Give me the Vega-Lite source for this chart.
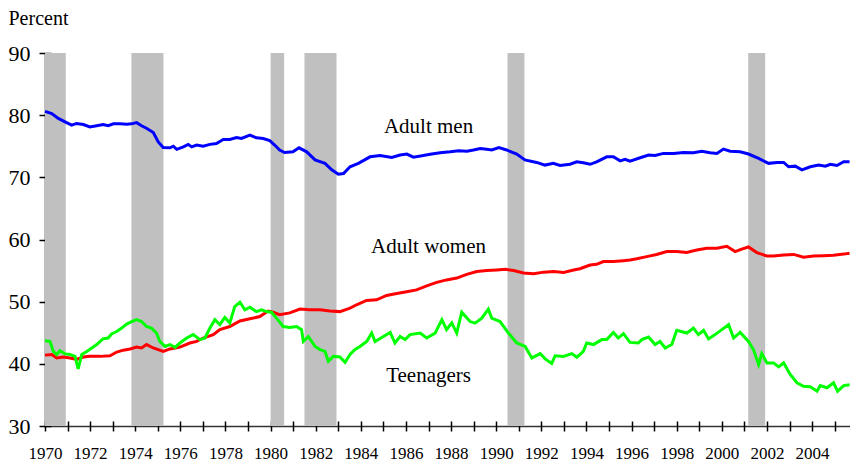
{
  "$schema": "https://vega.github.io/schema/vega-lite/v6.json",
  "width": 805,
  "height": 373,
  "autosize": "none",
  "padding": {"left": 45, "top": 53, "right": 0, "bottom": 38},
  "background": "white",
  "config": {"font": "'Liberation Serif', 'DejaVu Serif', serif", "view": {"stroke": null}, "axis": {"grid": false}, "text": {"font": "'Liberation Serif', 'DejaVu Serif', serif"}},
  "datasets": {
    "rec": [
      {"start": 1970.0, "end": 1970.92},
      {"start": 1973.83, "end": 1975.25},
      {"start": 1980.0, "end": 1980.6},
      {"start": 1981.5, "end": 1982.92},
      {"start": 1990.5, "end": 1991.25},
      {"start": 2001.17, "end": 2001.92}
    ],
    "labels": [
      {"year": 1987, "value": 77.1, "text": "Adult men"},
      {"year": 1987, "value": 57.85, "text": "Adult women"},
      {"year": 1987, "value": 37.15, "text": "Teenagers"}
    ],
    "series": [
      {"series":"Adult men","year":1970.0,"value":80.6},{"series":"Adult men","year":1970.3,"value":80.27},{"series":"Adult men","year":1970.59,"value":79.47},{"series":"Adult men","year":1970.89,"value":78.93},{"series":"Adult men","year":1971.18,"value":78.4},{"series":"Adult men","year":1971.4,"value":78.67},{"series":"Adult men","year":1971.7,"value":78.5},{"series":"Adult men","year":1971.99,"value":78.1},{"series":"Adult men","year":1972.29,"value":78.3},{"series":"Adult men","year":1972.58,"value":78.5},{"series":"Adult men","year":1972.8,"value":78.3},{"series":"Adult men","year":1973.03,"value":78.6},{"series":"Adult men","year":1973.32,"value":78.6},{"series":"Adult men","year":1973.62,"value":78.55},{"series":"Adult men","year":1973.84,"value":78.6},{"series":"Adult men","year":1974.06,"value":78.8},{"series":"Adult men","year":1974.28,"value":78.3},{"series":"Adult men","year":1974.5,"value":77.9},{"series":"Adult men","year":1974.8,"value":77.2},{"series":"Adult men","year":1975.02,"value":75.7},{"series":"Adult men","year":1975.24,"value":74.8},{"series":"Adult men","year":1975.54,"value":74.75},{"series":"Adult men","year":1975.69,"value":75.0},{"series":"Adult men","year":1975.84,"value":74.5},{"series":"Adult men","year":1976.13,"value":74.9},{"series":"Adult men","year":1976.35,"value":75.3},{"series":"Adult men","year":1976.5,"value":74.9},{"series":"Adult men","year":1976.72,"value":75.2},{"series":"Adult men","year":1977.01,"value":75.0},{"series":"Adult men","year":1977.31,"value":75.3},{"series":"Adult men","year":1977.6,"value":75.45},{"series":"Adult men","year":1977.9,"value":76.1},{"series":"Adult men","year":1978.19,"value":76.1},{"series":"Adult men","year":1978.49,"value":76.4},{"series":"Adult men","year":1978.71,"value":76.25},{"series":"Adult men","year":1979.08,"value":76.8},{"series":"Adult men","year":1979.37,"value":76.35},{"series":"Adult men","year":1979.67,"value":76.25},{"series":"Adult men","year":1979.96,"value":75.9},{"series":"Adult men","year":1980.18,"value":75.2},{"series":"Adult men","year":1980.4,"value":74.4},{"series":"Adult men","year":1980.62,"value":74.0},{"series":"Adult men","year":1980.99,"value":74.1},{"series":"Adult men","year":1981.26,"value":74.75},{"series":"Adult men","year":1981.6,"value":74.1},{"series":"Adult men","year":1981.97,"value":72.8},{"series":"Adult men","year":1982.41,"value":72.25},{"series":"Adult men","year":1982.71,"value":71.2},{"series":"Adult men","year":1983.0,"value":70.5},{"series":"Adult men","year":1983.23,"value":70.6},{"series":"Adult men","year":1983.52,"value":71.7},{"series":"Adult men","year":1983.89,"value":72.25},{"series":"Adult men","year":1984.41,"value":73.3},{"series":"Adult men","year":1984.85,"value":73.5},{"series":"Adult men","year":1985.37,"value":73.2},{"series":"Adult men","year":1985.74,"value":73.6},{"series":"Adult men","year":1986.04,"value":73.75},{"series":"Adult men","year":1986.33,"value":73.25},{"series":"Adult men","year":1986.77,"value":73.5},{"series":"Adult men","year":1987.07,"value":73.7},{"series":"Adult men","year":1987.51,"value":73.95},{"series":"Adult men","year":1987.96,"value":74.1},{"series":"Adult men","year":1988.33,"value":74.27},{"series":"Adult men","year":1988.7,"value":74.2},{"series":"Adult men","year":1988.99,"value":74.4},{"series":"Adult men","year":1989.29,"value":74.65},{"series":"Adult men","year":1989.58,"value":74.5},{"series":"Adult men","year":1989.8,"value":74.4},{"series":"Adult men","year":1990.12,"value":74.8},{"series":"Adult men","year":1990.46,"value":74.4},{"series":"Adult men","year":1990.91,"value":73.75},{"series":"Adult men","year":1991.27,"value":72.8},{"series":"Adult men","year":1991.79,"value":72.4},{"series":"Adult men","year":1992.16,"value":71.97},{"series":"Adult men","year":1992.53,"value":72.25},{"series":"Adult men","year":1992.83,"value":71.9},{"series":"Adult men","year":1993.27,"value":72.1},{"series":"Adult men","year":1993.57,"value":72.5},{"series":"Adult men","year":1993.86,"value":72.35},{"series":"Adult men","year":1994.16,"value":72.1},{"series":"Adult men","year":1994.45,"value":72.5},{"series":"Adult men","year":1994.9,"value":73.3},{"series":"Adult men","year":1995.19,"value":73.3},{"series":"Adult men","year":1995.49,"value":72.65},{"series":"Adult men","year":1995.71,"value":72.9},{"series":"Adult men","year":1995.93,"value":72.6},{"series":"Adult men","year":1996.38,"value":73.15},{"series":"Adult men","year":1996.75,"value":73.6},{"series":"Adult men","year":1997.04,"value":73.5},{"series":"Adult men","year":1997.41,"value":73.85},{"series":"Adult men","year":1997.86,"value":73.85},{"series":"Adult men","year":1998.3,"value":74.0},{"series":"Adult men","year":1998.74,"value":73.95},{"series":"Adult men","year":1999.11,"value":74.2},{"series":"Adult men","year":1999.48,"value":73.95},{"series":"Adult men","year":1999.78,"value":73.85},{"series":"Adult men","year":2000.07,"value":74.55},{"series":"Adult men","year":2000.37,"value":74.2},{"series":"Adult men","year":2000.81,"value":74.1},{"series":"Adult men","year":2001.18,"value":73.75},{"series":"Adult men","year":2001.63,"value":73.05},{"series":"Adult men","year":2002.07,"value":72.25},{"series":"Adult men","year":2002.44,"value":72.4},{"series":"Adult men","year":2002.74,"value":72.4},{"series":"Adult men","year":2002.96,"value":71.7},{"series":"Adult men","year":2003.25,"value":71.8},{"series":"Adult men","year":2003.55,"value":71.2},{"series":"Adult men","year":2003.92,"value":71.7},{"series":"Adult men","year":2004.29,"value":71.97},{"series":"Adult men","year":2004.59,"value":71.8},{"series":"Adult men","year":2004.81,"value":72.1},{"series":"Adult men","year":2005.1,"value":71.9},{"series":"Adult men","year":2005.4,"value":72.5},{"series":"Adult men","year":2005.66,"value":72.5},

      {"series":"Adult women","year":1970.0,"value":41.4},{"series":"Adult women","year":1970.3,"value":41.5},{"series":"Adult women","year":1970.52,"value":40.95},{"series":"Adult women","year":1970.81,"value":41.1},{"series":"Adult women","year":1971.11,"value":40.95},{"series":"Adult women","year":1971.4,"value":40.7},{"series":"Adult women","year":1971.7,"value":41.1},{"series":"Adult women","year":1971.99,"value":41.2},{"series":"Adult women","year":1972.44,"value":41.2},{"series":"Adult women","year":1972.88,"value":41.3},{"series":"Adult women","year":1973.18,"value":41.9},{"series":"Adult women","year":1973.47,"value":42.2},{"series":"Adult women","year":1973.77,"value":42.4},{"series":"Adult women","year":1974.06,"value":42.7},{"series":"Adult women","year":1974.28,"value":42.55},{"series":"Adult women","year":1974.5,"value":43.1},{"series":"Adult women","year":1974.8,"value":42.55},{"series":"Adult women","year":1975.24,"value":42.0},{"series":"Adult women","year":1975.54,"value":42.4},{"series":"Adult women","year":1975.98,"value":42.7},{"series":"Adult women","year":1976.42,"value":43.35},{"series":"Adult women","year":1976.72,"value":43.6},{"series":"Adult women","year":1977.01,"value":44.15},{"series":"Adult women","year":1977.46,"value":44.7},{"series":"Adult women","year":1977.75,"value":45.5},{"series":"Adult women","year":1978.19,"value":46.0},{"series":"Adult women","year":1978.64,"value":46.9},{"series":"Adult women","year":1979.08,"value":47.25},{"series":"Adult women","year":1979.52,"value":47.6},{"series":"Adult women","year":1979.89,"value":48.5},{"series":"Adult women","year":1980.11,"value":48.3},{"series":"Adult women","year":1980.4,"value":47.9},{"series":"Adult women","year":1980.85,"value":48.2},{"series":"Adult women","year":1981.3,"value":48.8},{"series":"Adult women","year":1981.74,"value":48.7},{"series":"Adult women","year":1982.19,"value":48.7},{"series":"Adult women","year":1982.63,"value":48.5},{"series":"Adult women","year":1983.07,"value":48.4},{"series":"Adult women","year":1983.52,"value":48.95},{"series":"Adult women","year":1983.81,"value":49.5},{"series":"Adult women","year":1984.25,"value":50.2},{"series":"Adult women","year":1984.7,"value":50.3},{"series":"Adult women","year":1985.14,"value":51.0},{"series":"Adult women","year":1985.59,"value":51.3},{"series":"Adult women","year":1986.03,"value":51.6},{"series":"Adult women","year":1986.47,"value":51.9},{"series":"Adult women","year":1986.92,"value":52.55},{"series":"Adult women","year":1987.36,"value":53.1},{"series":"Adult women","year":1987.8,"value":53.5},{"series":"Adult women","year":1988.25,"value":53.8},{"series":"Adult women","year":1988.69,"value":54.4},{"series":"Adult women","year":1989.14,"value":54.85},{"series":"Adult women","year":1989.58,"value":55.0},{"series":"Adult women","year":1990.03,"value":55.1},{"series":"Adult women","year":1990.4,"value":55.2},{"series":"Adult women","year":1990.77,"value":55.0},{"series":"Adult women","year":1991.21,"value":54.6},{"series":"Adult women","year":1991.66,"value":54.5},{"series":"Adult women","year":1992.1,"value":54.75},{"series":"Adult women","year":1992.55,"value":54.85},{"series":"Adult women","year":1992.99,"value":54.7},{"series":"Adult women","year":1993.43,"value":55.1},{"series":"Adult women","year":1993.71,"value":55.3},{"series":"Adult women","year":1994.16,"value":55.9},{"series":"Adult women","year":1994.45,"value":56.0},{"series":"Adult women","year":1994.75,"value":56.45},{"series":"Adult women","year":1995.19,"value":56.45},{"series":"Adult women","year":1995.64,"value":56.6},{"series":"Adult women","year":1995.93,"value":56.7},{"series":"Adult women","year":1996.23,"value":56.9},{"series":"Adult women","year":1996.67,"value":57.25},{"series":"Adult women","year":1997.11,"value":57.6},{"series":"Adult women","year":1997.56,"value":58.05},{"series":"Adult women","year":1998.0,"value":58.05},{"series":"Adult women","year":1998.44,"value":57.9},{"series":"Adult women","year":1998.89,"value":58.3},{"series":"Adult women","year":1999.33,"value":58.6},{"series":"Adult women","year":1999.78,"value":58.6},{"series":"Adult women","year":2000.22,"value":58.9},{"series":"Adult women","year":2000.59,"value":58.05},{"series":"Adult women","year":2000.88,"value":58.45},{"series":"Adult women","year":2001.18,"value":58.8},{"series":"Adult women","year":2001.55,"value":57.9},{"series":"Adult women","year":2001.99,"value":57.35},{"series":"Adult women","year":2002.29,"value":57.35},{"series":"Adult women","year":2002.74,"value":57.5},{"series":"Adult women","year":2003.18,"value":57.6},{"series":"Adult women","year":2003.62,"value":57.15},{"series":"Adult women","year":2004.07,"value":57.35},{"series":"Adult women","year":2004.51,"value":57.4},{"series":"Adult women","year":2004.95,"value":57.45},{"series":"Adult women","year":2005.4,"value":57.65},{"series":"Adult women","year":2005.66,"value":57.8},

      {"series":"Teenagers","year":1970.0,"value":43.7},{"series":"Teenagers","year":1970.22,"value":43.6},{"series":"Teenagers","year":1970.37,"value":42.0},{"series":"Teenagers","year":1970.52,"value":41.5},{"series":"Teenagers","year":1970.66,"value":42.1},{"series":"Teenagers","year":1970.89,"value":41.6},{"series":"Teenagers","year":1971.11,"value":41.5},{"series":"Teenagers","year":1971.33,"value":41.2},{"series":"Teenagers","year":1971.47,"value":39.2},{"series":"Teenagers","year":1971.63,"value":41.5},{"series":"Teenagers","year":1971.85,"value":42.0},{"series":"Teenagers","year":1972.07,"value":42.55},{"series":"Teenagers","year":1972.29,"value":43.1},{"series":"Teenagers","year":1972.58,"value":44.05},{"series":"Teenagers","year":1972.8,"value":44.15},{"series":"Teenagers","year":1972.95,"value":44.8},{"series":"Teenagers","year":1973.18,"value":45.2},{"series":"Teenagers","year":1973.4,"value":45.75},{"series":"Teenagers","year":1973.62,"value":46.4},{"series":"Teenagers","year":1973.84,"value":46.8},{"series":"Teenagers","year":1974.06,"value":47.1},{"series":"Teenagers","year":1974.28,"value":46.8},{"series":"Teenagers","year":1974.5,"value":46.0},{"series":"Teenagers","year":1974.72,"value":45.75},{"series":"Teenagers","year":1974.94,"value":44.95},{"series":"Teenagers","year":1975.09,"value":43.6},{"series":"Teenagers","year":1975.32,"value":42.8},{"series":"Teenagers","year":1975.54,"value":43.1},{"series":"Teenagers","year":1975.76,"value":42.65},{"series":"Teenagers","year":1975.98,"value":43.35},{"series":"Teenagers","year":1976.28,"value":44.15},{"series":"Teenagers","year":1976.57,"value":44.7},{"series":"Teenagers","year":1976.87,"value":43.9},{"series":"Teenagers","year":1977.09,"value":44.15},{"series":"Teenagers","year":1977.31,"value":45.75},{"series":"Teenagers","year":1977.53,"value":47.1},{"series":"Teenagers","year":1977.75,"value":46.3},{"series":"Teenagers","year":1977.97,"value":47.45},{"series":"Teenagers","year":1978.19,"value":46.55},{"series":"Teenagers","year":1978.41,"value":49.2},{"series":"Teenagers","year":1978.64,"value":49.9},{"series":"Teenagers","year":1978.86,"value":48.7},{"series":"Teenagers","year":1979.08,"value":49.1},{"series":"Teenagers","year":1979.37,"value":48.4},{"series":"Teenagers","year":1979.6,"value":48.7},{"series":"Teenagers","year":1979.82,"value":48.4},{"series":"Teenagers","year":1980.04,"value":48.3},{"series":"Teenagers","year":1980.26,"value":47.35},{"series":"Teenagers","year":1980.56,"value":46.0},{"series":"Teenagers","year":1980.85,"value":45.85},{"series":"Teenagers","year":1981.15,"value":46.0},{"series":"Teenagers","year":1981.37,"value":45.5},{"series":"Teenagers","year":1981.45,"value":43.6},{"series":"Teenagers","year":1981.67,"value":44.4},{"series":"Teenagers","year":1981.97,"value":42.8},{"series":"Teenagers","year":1982.19,"value":42.3},{"series":"Teenagers","year":1982.41,"value":42.0},{"series":"Teenagers","year":1982.56,"value":40.4},{"series":"Teenagers","year":1982.78,"value":41.2},{"series":"Teenagers","year":1983.07,"value":41.1},{"series":"Teenagers","year":1983.3,"value":40.25},{"series":"Teenagers","year":1983.52,"value":41.5},{"series":"Teenagers","year":1983.74,"value":42.3},{"series":"Teenagers","year":1983.96,"value":42.8},{"series":"Teenagers","year":1984.26,"value":43.6},{"series":"Teenagers","year":1984.48,"value":44.95},{"series":"Teenagers","year":1984.63,"value":43.6},{"series":"Teenagers","year":1985.0,"value":44.4},{"series":"Teenagers","year":1985.3,"value":45.05},{"series":"Teenagers","year":1985.51,"value":43.35},{"series":"Teenagers","year":1985.74,"value":44.4},{"series":"Teenagers","year":1985.96,"value":43.9},{"series":"Teenagers","year":1986.18,"value":44.7},{"series":"Teenagers","year":1986.63,"value":44.95},{"series":"Teenagers","year":1986.92,"value":44.15},{"series":"Teenagers","year":1987.29,"value":44.95},{"series":"Teenagers","year":1987.59,"value":47.1},{"series":"Teenagers","year":1987.8,"value":45.5},{"series":"Teenagers","year":1988.03,"value":46.6},{"series":"Teenagers","year":1988.25,"value":44.95},{"series":"Teenagers","year":1988.47,"value":48.3},{"series":"Teenagers","year":1988.84,"value":46.8},{"series":"Teenagers","year":1989.06,"value":46.55},{"series":"Teenagers","year":1989.36,"value":47.35},{"series":"Teenagers","year":1989.65,"value":48.8},{"series":"Teenagers","year":1989.8,"value":47.35},{"series":"Teenagers","year":1990.17,"value":46.8},{"series":"Teenagers","year":1990.54,"value":44.95},{"series":"Teenagers","year":1990.91,"value":43.35},{"series":"Teenagers","year":1991.28,"value":42.8},{"series":"Teenagers","year":1991.58,"value":40.95},{"series":"Teenagers","year":1991.95,"value":41.65},{"series":"Teenagers","year":1992.17,"value":40.8},{"series":"Teenagers","year":1992.46,"value":40.05},{"series":"Teenagers","year":1992.61,"value":41.3},{"series":"Teenagers","year":1992.98,"value":41.2},{"series":"Teenagers","year":1993.35,"value":41.65},{"series":"Teenagers","year":1993.57,"value":41.05},{"series":"Teenagers","year":1993.86,"value":42.0},{"series":"Teenagers","year":1994.01,"value":43.35},{"series":"Teenagers","year":1994.31,"value":43.1},{"series":"Teenagers","year":1994.68,"value":43.9},{"series":"Teenagers","year":1994.9,"value":43.9},{"series":"Teenagers","year":1995.19,"value":45.05},{"series":"Teenagers","year":1995.41,"value":44.15},{"series":"Teenagers","year":1995.64,"value":44.85},{"series":"Teenagers","year":1995.93,"value":43.45},{"series":"Teenagers","year":1996.3,"value":43.35},{"series":"Teenagers","year":1996.45,"value":43.9},{"series":"Teenagers","year":1996.75,"value":44.3},{"series":"Teenagers","year":1997.04,"value":43.1},{"series":"Teenagers","year":1997.26,"value":43.6},{"series":"Teenagers","year":1997.49,"value":42.55},{"series":"Teenagers","year":1997.78,"value":43.1},{"series":"Teenagers","year":1998.0,"value":45.4},{"series":"Teenagers","year":1998.45,"value":44.95},{"series":"Teenagers","year":1998.74,"value":45.75},{"series":"Teenagers","year":1998.96,"value":44.7},{"series":"Teenagers","year":1999.19,"value":45.4},{"series":"Teenagers","year":1999.41,"value":44.0},{"series":"Teenagers","year":1999.7,"value":44.7},{"series":"Teenagers","year":2000.0,"value":45.5},{"series":"Teenagers","year":2000.3,"value":46.3},{"series":"Teenagers","year":2000.52,"value":44.15},{"series":"Teenagers","year":2000.81,"value":45.05},{"series":"Teenagers","year":2001.18,"value":43.6},{"series":"Teenagers","year":2001.4,"value":42.3},{"series":"Teenagers","year":2001.63,"value":39.9},{"series":"Teenagers","year":2001.77,"value":41.65},{"series":"Teenagers","year":2002.0,"value":40.15},{"series":"Teenagers","year":2002.29,"value":40.15},{"series":"Teenagers","year":2002.52,"value":39.5},{"series":"Teenagers","year":2002.74,"value":40.15},{"series":"Teenagers","year":2003.03,"value":38.3},{"series":"Teenagers","year":2003.33,"value":36.95},{"series":"Teenagers","year":2003.62,"value":36.4},{"series":"Teenagers","year":2003.92,"value":36.3},{"series":"Teenagers","year":2004.22,"value":35.6},{"series":"Teenagers","year":2004.36,"value":36.5},{"series":"Teenagers","year":2004.66,"value":36.15},{"series":"Teenagers","year":2004.95,"value":36.95},{"series":"Teenagers","year":2005.13,"value":35.6},{"series":"Teenagers","year":2005.4,"value":36.5},{"series":"Teenagers","year":2005.66,"value":36.65}
    ]
  },
  "layer": [
    {
      "data": {"name": "rec"},
      "mark": {"type": "rect", "fill": "#c0c0c0"},
      "encoding": {
        "x": {"field": "start", "type": "quantitative",
          "scale": {"domain": [1970, 2005.68], "nice": false, "zero": false},
          "axis": {"values": [1970,1972,1974,1976,1978,1980,1982,1984,1986,1988,1990,1992,1994,1996,1998,2000,2002,2004],
            "format": "d", "tickSize": 0, "labelPadding": 19, "labelFontSize": 17, "labelColor": "#000",
            "labelFont": "'Liberation Serif', 'DejaVu Serif', serif", "domainColor": "#333", "domainWidth": 1.5, "title": null, "labelFlush": false}},
        "x2": {"field": "end"},
        "y": {"datum": 30, "type": "quantitative",
          "scale": {"domain": [30, 90], "nice": false, "zero": false},
          "axis": {"values": [30,40,50,60,70,80,90], "tickSize": 0, "labelPadding": 15, "labelFontSize": 22,
            "labelColor": "#000", "labelFont": "'Liberation Serif', 'DejaVu Serif', serif", "domainColor": "#808080", "domainWidth": 2,
            "title": "Percent", "titleAngle": 0, "titleAlign": "left", "titleBaseline": "alphabetic",
            "titleX": -37, "titleY": -29, "titleFontSize": 20, "titleFontWeight": "normal", "titleColor": "#000",
            "titleFont": "'Liberation Serif', 'DejaVu Serif', serif", "labelFlush": false}},
        "y2": {"datum": 90}
      }
    },
    {
      "data": {"name": "series"},
      "mark": {"type": "line", "strokeWidth": 3, "interpolate": "linear"},
      "encoding": {
        "x": {"field": "year", "type": "quantitative",
          "axis": {"orient": "bottom", "values": [1970,1971,1972,1973,1974,1975,1976,1977,1978,1979,1980,1981,1982,1983,1984,1985,1986,1987,1988,1989,1990,1991,1992,1993,1994,1995,1996,1997,1998,1999,2000,2001,2002,2003,2004,2005],
            "labels": false, "domain": false, "tickSize": 10, "offset": -5, "tickColor": "#000", "tickWidth": 1.5, "title": null}},
        "y": {"field": "value", "type": "quantitative",
          "axis": {"orient": "left", "values": [30,40,50,60,70,80,90], "labels": false, "domain": false,
            "tickSize": 12, "offset": -6, "tickColor": "#000", "tickWidth": 1.5, "title": null}},
        "color": {"field": "series", "type": "nominal",
          "scale": {"domain": ["Adult men", "Adult women", "Teenagers"], "range": ["#0000ff", "#ff0000", "#00ff00"]},
          "legend": null}
      }
    },
    {
      "data": {"name": "labels"},
      "mark": {"type": "text", "font": "'Liberation Serif', 'DejaVu Serif', serif", "fontSize": 21, "align": "center", "baseline": "alphabetic", "color": "#000"},
      "encoding": {
        "x": {"field": "year", "type": "quantitative", "axis": null},
        "y": {"field": "value", "type": "quantitative", "axis": null},
        "text": {"field": "text"}
      }
    }
  ],
  "resolve": {"axis": {"x": "independent", "y": "independent"}}
}
